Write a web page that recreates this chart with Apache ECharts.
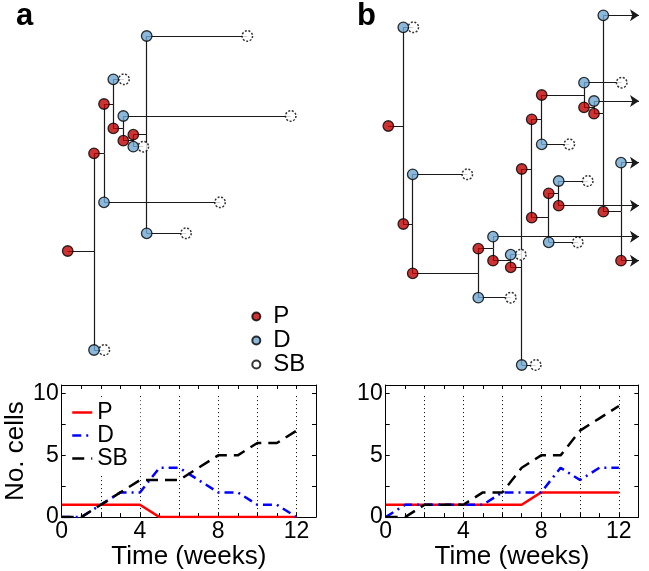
<!DOCTYPE html>
<html><head><meta charset="utf-8">
<script src="https://cdn.jsdelivr.net/npm/echarts@6/dist/echarts.min.js"></script>
<style>html,body{margin:0;padding:0;background:#fff}#c{width:649px;height:571px}</style>
</head><body><div id="c"></div>
<script>
// ---- bottom panels: number of cells per week ----
const weeks = [0,1,2,3,4,5,6,7,8,9,10,11,12];
const aP  = [1,1,1,1,1,0,0,0,0,0,0,0,0];
const aD  = [0,0,1,2,2,4,4,3,2,2,1,1,0];
const aSB = [0,0,1,2,3,3,3,4,5,5,6,6,7];
const bP  = [1,1,1,1,1,1,1,1,2,2,2,2,2];
const bD  = [0,1,1,1,1,1,2,2,2,4,3,4,4];
const bSB = [0,0,1,1,1,2,2,4,5,5,7,8,9];
const gridWeeks = [2,4,6,8,10,12];
const xTickLabels = [0,4,8,12];
const yTickLabels = [0,5,10];
const legendNames = ['P','D','SB'];

// ---- lineage trees: [x (layout units), y (layout units), type, parent index] ----
const treeA = [
  [67.7,251,'P',-1],
  [94,153.3,'P',0],
  [94,350,'D',0],
  [104.3,350,'SB',2],
  [104,104,'P',1],
  [104,202.3,'D',1],
  [220,202.3,'SB',5],
  [113.3,79.3,'D',4],
  [113.3,128.3,'P',4],
  [124,79.3,'SB',7],
  [123.3,116,'D',8],
  [123.3,140.7,'P',8],
  [290.7,116,'SB',10],
  [133.3,134.7,'P',11],
  [133.3,146.7,'D',11],
  [143.3,146.7,'SB',14],
  [146.7,36,'D',13],
  [146.7,233.3,'D',13],
  [247.3,36,'SB',16],
  [186,233.3,'SB',17]
];
const treeB = [
  [388.3,126,'P',-1],
  [403.3,27.3,'D',0],
  [403.3,224,'P',0],
  [413.3,27.3,'SB',1],
  [412.7,174.3,'D',2],
  [412.7,273.3,'P',2],
  [467.3,174.3,'SB',4],
  [478.3,248.7,'P',5],
  [478.3,297.7,'D',5],
  [510.7,297.7,'SB',8],
  [493,236.7,'D',7],
  [493,260.7,'P',7],
  [639,236.7,'A',10],
  [510.7,254.7,'D',11],
  [510.7,267.3,'P',11],
  [520.7,254.7,'SB',13],
  [521.7,169,'P',14],
  [521.7,365,'D',14],
  [535.7,365,'SB',17],
  [531.7,119.3,'P',16],
  [531.7,217.7,'P',16],
  [548.7,193.3,'P',20],
  [548.7,242.3,'D',20],
  [577.7,242.3,'SB',22],
  [558.7,181,'D',21],
  [558.7,205.7,'P',21],
  [587.7,181,'SB',24],
  [639,205.7,'A',25],
  [541.7,95,'P',19],
  [541.7,144.3,'D',19],
  [569.3,144.3,'SB',29],
  [584,82.7,'D',28],
  [584,107.3,'P',28],
  [621.7,82.7,'SB',31],
  [594,101,'D',32],
  [594,113.7,'P',32],
  [639,101,'A',34],
  [603.3,15.3,'D',35],
  [603.3,211.7,'P',35],
  [639,15.3,'A',37],
  [621,162.7,'D',38],
  [621,260.7,'P',38],
  [639,162.7,'A',40],
  [639,260.7,'A',41]
];

const FONT = '"Liberation Sans", Arial, Helvetica, sans-serif';
const RED_NODE = '#c00000', BLUE_NODE = '#6fa8d2';

function treeSeries(nodes){
  const segs = [], arrows = [], pts = {P:[], D:[], SB:[]};
  nodes.forEach(n => {
    const [x, y, t, p] = n;
    if (t !== 'A') pts[t].push([x, y]);
    if (p >= 0) {
      const px = nodes[p][0], py = nodes[p][1];
      if (t === 'A') arrows.push({coords: [[px, py], [x, py]]});
      else {
        segs.push({coords: [[px, py], [x, py]]});
        if (y !== py) segs.push({coords: [[x, py], [x, y]]});
      }
    }
  });
  const ls = {color: '#1a1a1a', width: 1.2, opacity: 1, curveness: 0};
  return [
    {type:'lines', coordinateSystem:'cartesian2d', xAxisIndex:0, yAxisIndex:0, data: segs,
     symbol:['none','none'], lineStyle: ls, z:2, silent:true, animation:false},
    {type:'lines', coordinateSystem:'cartesian2d', xAxisIndex:0, yAxisIndex:0, data: arrows,
     symbol:['none','arrow'], symbolSize:[1,9], lineStyle: ls, z:2, silent:true, animation:false},
    {type:'scatter', name:'SB', xAxisIndex:0, yAxisIndex:0, data: pts.SB, symbol:'circle', symbolSize:10.5,
     itemStyle:{color:'#fff', borderColor:'#000', borderWidth:1.5, borderType:[2,1.6]}, z:3, silent:true, animation:false},
    {type:'scatter', name:'P', xAxisIndex:0, yAxisIndex:0, data: pts.P, symbol:'circle', symbolSize:10.5,
     itemStyle:{color:RED_NODE, borderColor:'#000', borderWidth:1.3}, z:4, silent:true, animation:false},
    {type:'scatter', name:'D', xAxisIndex:0, yAxisIndex:0, data: pts.D, symbol:'circle', symbolSize:10.5,
     itemStyle:{color:BLUE_NODE, borderColor:'#000', borderWidth:1.3}, z:4, silent:true, animation:false}
  ];
}

function lineSeries(name, ys, ax, color, type){
  return {type:'line', name: name, xAxisIndex: ax.x, yAxisIndex: ax.y,
    data: weeks.map((w,i) => [w, ys[i]]), symbol:'none', showSymbol:false,
    lineStyle:{color: color, width: 2.5, type: type}, itemStyle:{color: color},
    z:3, silent:true, animation:false};
}
function dottedSeries(ax){
  return {type:'line', name:'grid', xAxisIndex: ax.x, yAxisIndex: ax.y, data: [], silent:true, animation:false,
    markLine:{silent:true, z:1, symbol:['none','none'], label:{show:false}, animation:false,
      lineStyle:{color:'#000', width:1, type:[1,3]},
      data: gridWeeks.map(w => [{coord:[w,0]},{coord:[w,10]}])}};
}

const tickStyle = {inside:true, length:4, lineStyle:{color:'#000', width:1}};
const axisLine = {show:true, onZero:false, lineStyle:{color:'#000', width:1}};
function xAxes(gi){
  return [
    {gridIndex:gi, type:'value', position:'bottom', min:0, max:13, interval:1,
     axisLine: axisLine, axisTick: tickStyle, splitLine:{show:false},
     axisLabel:{formatter: v => xTickLabels.includes(v) ? String(v) : '', color:'#000', fontSize:23, margin:3, fontFamily:FONT},
     name:'Time (weeks)', nameLocation:'middle', nameGap:21,
     nameTextStyle:{color:'#000', fontSize:26, fontFamily:FONT}},
    {gridIndex:gi, type:'value', position:'top', min:0, max:13, interval:1,
     axisLine: axisLine, axisTick: tickStyle, splitLine:{show:false}, axisLabel:{show:false}}
  ];
}
function yAxes(gi, withName){
  const left = {gridIndex:gi, type:'value', position:'left', min:0, max:10.7, interval:2.5,
     axisLine: axisLine, axisTick: tickStyle, splitLine:{show:false},
     axisLabel:{formatter: v => yTickLabels.includes(v) ? String(v) : '', color:'#000', fontSize:23, margin:3, fontFamily:FONT}};
  if (withName) Object.assign(left, {name:'No. cells', nameLocation:'middle', nameGap:18, nameRotate:90,
     nameTextStyle:{color:'#000', fontSize:26, fontFamily:FONT}});
  return [left,
    {gridIndex:gi, type:'value', position:'right', min:0, max:10.7, interval:2.5,
     axisLine: axisLine, axisTick: tickStyle, splitLine:{show:false}, axisLabel:{show:false}}];
}

const chart = echarts.init(document.getElementById('c'));
const axA = {x:1, y:1}, axB = {x:3, y:3};
chart.setOption({
  animation:false,
  textStyle:{fontFamily:FONT},
  title:[
    {text:'a', left:16, top:1, padding:0, textStyle:{fontSize:31, fontWeight:'bold', color:'#000', fontFamily:FONT}},
    {text:'b', left:357, top:1, padding:0, textStyle:{fontSize:31, fontWeight:'bold', color:'#000', fontFamily:FONT}}
  ],
  grid:[
    {left:0, top:0, width:649, height:380},
    {left:61.7, top:385, width:254.3, height:135.5},
    {left:385.7, top:385, width:252.6, height:134.5}
  ],
  xAxis:[
    {gridIndex:0, type:'value', min:0, max:649, show:false},
    ...xAxes(1), ...xAxes(2)
  ],
  yAxis:[
    {gridIndex:0, type:'value', min:0, max:380, inverse:true, show:false},
    ...yAxes(1, true), ...yAxes(2, false)
  ],
  legend:[
    {data: legendNames, orient:'vertical', left:251.3, top:304.5, padding:0, itemGap:0,
     itemWidth:24, itemHeight:8, selectedMode:false,
     textStyle:{fontSize:24, lineHeight:23.5, color:'#000', fontFamily:FONT}},
    {data: legendNames.map(n => n + ' '), orient:'vertical', left:66, top:397, padding:[4,6,4,5], itemGap:0,
     itemWidth:20, itemHeight:12, selectedMode:false, backgroundColor:'#fff',
     itemStyle:{opacity:0}, lineStyle:{width:2.5, opacity:1},
     textStyle:{fontSize:23, lineHeight:21.7, color:'#000', fontFamily:FONT}}
  ],
  series:[
    ...treeSeries(treeA),
    ...treeSeries(treeB),
    dottedSeries(axA),
    lineSeries('P ', aP, axA, '#ff0000', 'solid'),
    lineSeries('D ', aD, axA, '#0000ff', [9,5,2,5]),
    lineSeries('SB ', aSB, axA, '#000000', [12,7]),
    dottedSeries(axB),
    lineSeries('P ', bP, axB, '#ff0000', 'solid'),
    lineSeries('D ', bD, axB, '#0000ff', [9,5,2,5]),
    lineSeries('SB ', bSB, axB, '#000000', [12,7])
  ]
});
</script>
</body></html>
